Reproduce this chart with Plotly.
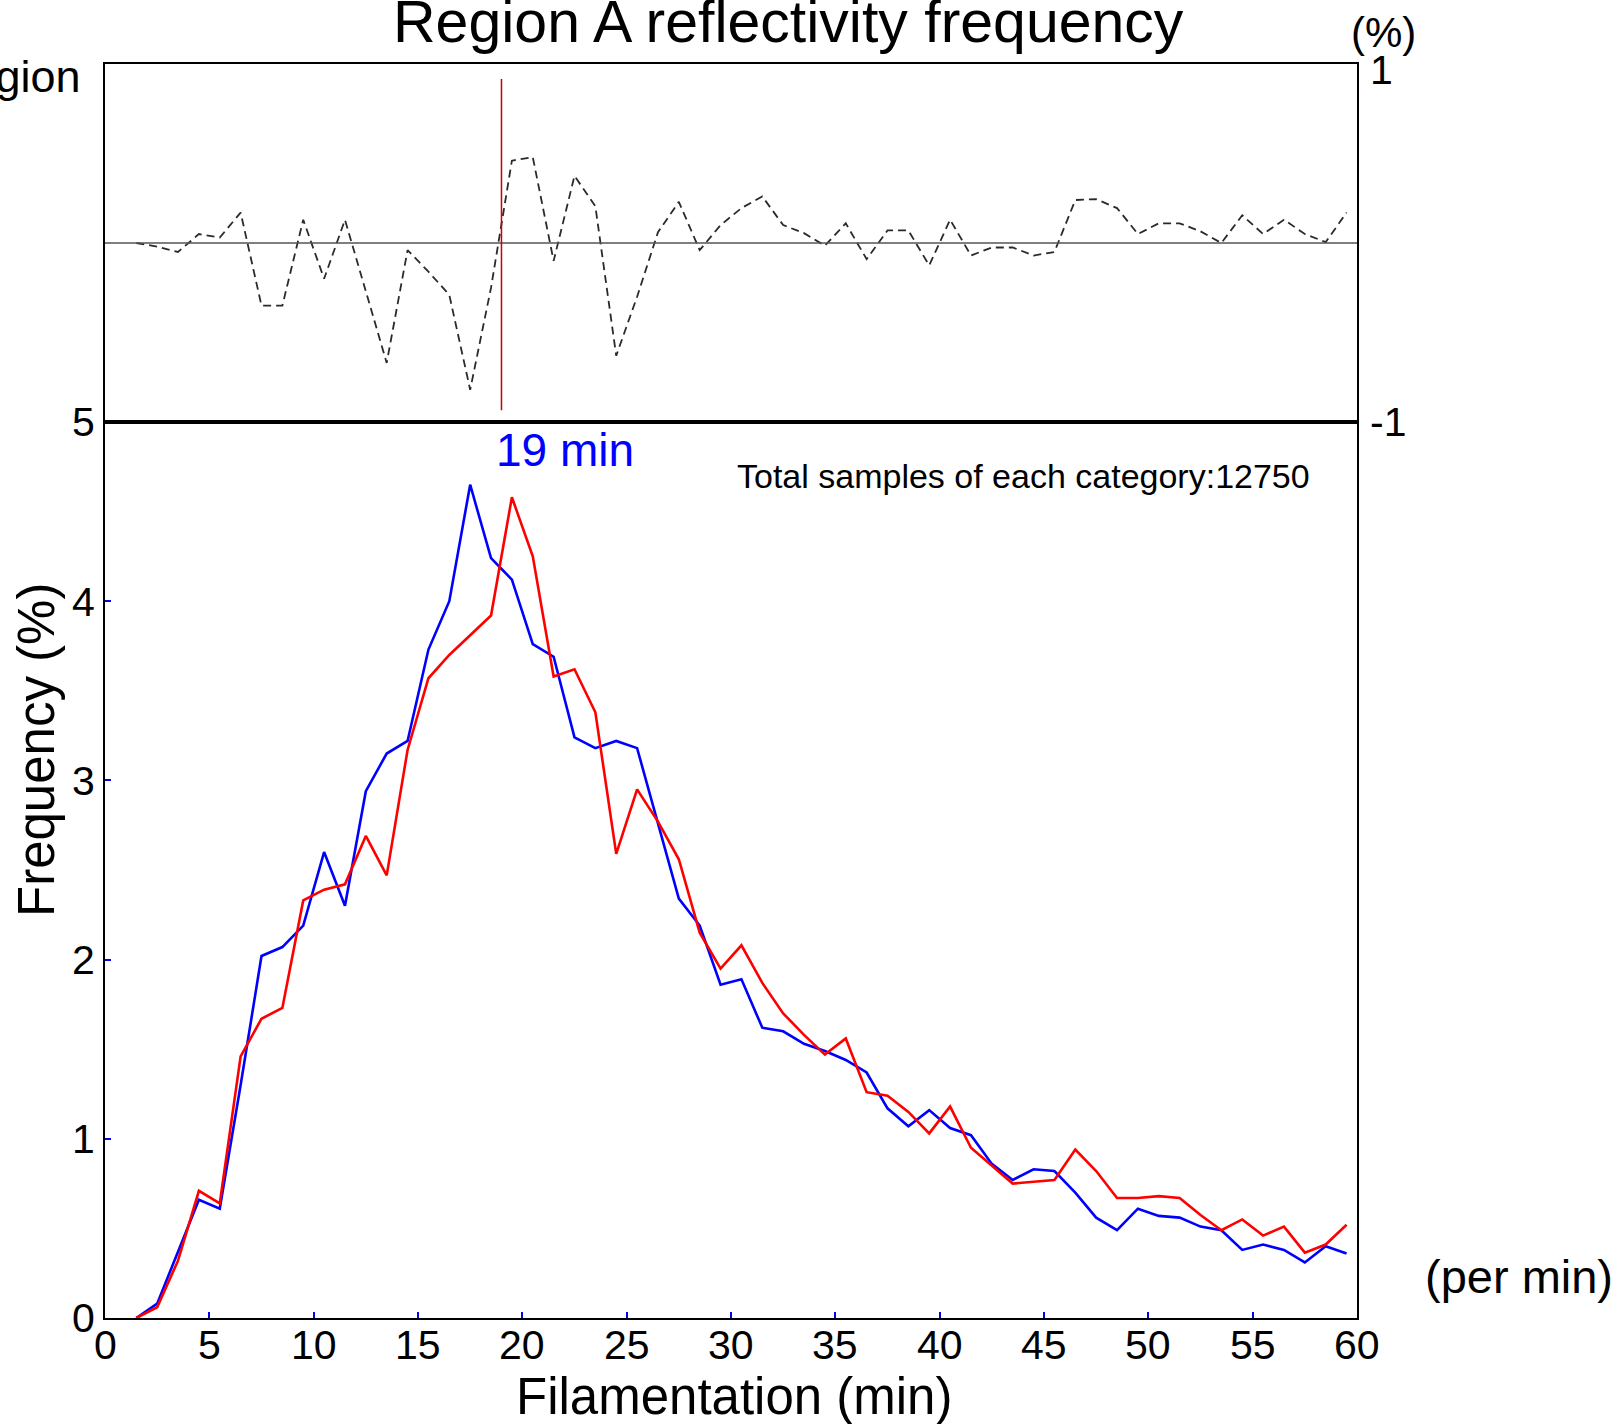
import plotly.graph_objects as go

# ---- data ----
minutes = [i + 0.5 for i in range(1, 60)]  # 1.5 .. 59.5

freq_blue = [0.00, 0.08, 0.37, 0.66, 0.61, 1.30, 2.02, 2.07, 2.19, 2.60,
             2.30, 2.94, 3.15, 3.22, 3.73, 4.00, 4.65, 4.24, 4.12, 3.76,
             3.69, 3.24, 3.18, 3.22, 3.18, 2.76, 2.34, 2.19, 1.86, 1.89,
             1.62, 1.60, 1.53, 1.49, 1.44, 1.37, 1.17, 1.07, 1.16, 1.06,
             1.02, 0.86, 0.77, 0.83, 0.82, 0.70, 0.56, 0.49, 0.61, 0.57,
             0.56, 0.51, 0.49, 0.38, 0.41, 0.38, 0.31, 0.40, 0.36]

freq_red = [0.00, 0.06, 0.32, 0.71, 0.64, 1.46, 1.67, 1.73, 2.33, 2.39,
            2.42, 2.69, 2.47, 3.17, 3.57, 3.70, 3.81, 3.92, 4.58, 4.25,
            3.58, 3.62, 3.38, 2.59, 2.95, 2.77, 2.56, 2.15, 1.95, 2.08,
            1.87, 1.70, 1.58, 1.47, 1.56, 1.26, 1.24, 1.15, 1.03, 1.18,
            0.95, 0.85, 0.75, 0.76, 0.77, 0.94, 0.82, 0.67, 0.67, 0.68,
            0.67, 0.575, 0.49, 0.55, 0.46, 0.51, 0.365, 0.41, 0.52]

freq_diff = [0.00, -0.02, -0.05, 0.05, 0.03, 0.17, -0.35, -0.35, 0.13, -0.20,
             0.13, -0.27, -0.67, -0.04, -0.16, -0.29, -0.82, -0.25, 0.46, 0.48,
             -0.10, 0.375, 0.205, -0.63, -0.30, 0.06, 0.23, -0.04, 0.10, 0.195,
             0.26, 0.10, 0.055, -0.015, 0.11, -0.09, 0.07, 0.07, -0.125, 0.13,
             -0.07, -0.025, -0.025, -0.07, -0.05, 0.24, 0.245, 0.195, 0.05, 0.11,
             0.11, 0.065, 0.00, 0.155, 0.05, 0.13, 0.05, 0.005, 0.17]

x_ticks = [0, 5, 10, 15, 20, 25, 30, 35, 40, 45, 50, 55, 60]
y_ticks = [0, 1, 2, 3, 4, 5]
diff_ticks = [-1, 1]
peak_minute = 19
total_samples = 12750

# ---- layout geometry ----
W, H = 1618, 1424
L, R, T, B = 105, 1357, 64, 1318
PW, PH = R - L, B - T
split = 422
dom_split = (B - split) / PH

def px(xp):
    return (xp - L) / PW

def py(yp):
    return (B - yp) / PH

FONT = "Liberation Sans, Arial, Helvetica, sans-serif"

fig = go.Figure()

fig.add_trace(go.Scatter(x=minutes, y=freq_blue, mode="lines",
                         line=dict(color="#0000ff", width=2.6),
                         xaxis="x", yaxis="y", showlegend=False))
fig.add_trace(go.Scatter(x=minutes, y=freq_red, mode="lines",
                         line=dict(color="#ff0000", width=2.6),
                         xaxis="x", yaxis="y", showlegend=False))
fig.add_trace(go.Scatter(x=minutes, y=freq_diff, mode="lines",
                         line=dict(color="#2a2a2a", width=1.8, dash="8px,5px"),
                         xaxis="x2", yaxis="y2", showlegend=False))

axis_common = dict(showline=True, linecolor="black", linewidth=2, mirror=True,
                   showgrid=False, zeroline=False)

fig.update_layout(
    width=W, height=H,
    margin=dict(l=L, r=W - R, t=T, b=H - B),
    paper_bgcolor="white", plot_bgcolor="white",
    font=dict(family=FONT, color="black"),
    xaxis=dict(range=[0, 60], domain=[0, 1], anchor="y",
               tickvals=x_ticks, showticklabels=False,
               ticks="inside", ticklen=6, tickwidth=2, tickcolor="#0000ff",
               **axis_common),
    yaxis=dict(range=[0, 5], domain=[0, dom_split], anchor="x",
               tickvals=y_ticks, ticktext=[str(v) for v in y_ticks],
               ticks="inside", ticklen=6, tickwidth=2, tickcolor="#0000ff",
               tickfont=dict(size=41, color="black"), ticklabelstandoff=0,
               **axis_common),
    xaxis2=dict(range=[0, 60], domain=[0, 1], anchor="y2", matches="x",
                showticklabels=False, ticks="", **axis_common),
    yaxis2=dict(range=[-1, 1], domain=[dom_split, 1], anchor="x2", side="right",
                tickvals=diff_ticks, showticklabels=False,
                ticks="", **axis_common),
)

# zero line and peak marker in the upper panel
fig.add_shape(type="line", xref="x2", yref="y2", x0=0, x1=60, y0=0, y1=0,
              line=dict(color="#555555", width=1.6))
fig.add_shape(type="line", xref="x2", yref="y2", x0=peak_minute, x1=peak_minute,
              y0=-0.935, y1=0.916, line=dict(color="#cc0000", width=1.5))

# x tick labels (placed closer to the axis than plotly's default)
for v in x_ticks:
    fig.add_annotation(text=str(v), x=v, y=py(1345), xref="x", yref="paper",
                       xanchor="center", yanchor="middle", showarrow=False,
                       font=dict(size=41, color="black", family=FONT))

# right-hand labels of the difference panel (slightly below the tick positions, as in the original)
diff_label_px = {1: 70, -1: 422}
for v in diff_ticks:
    fig.add_annotation(text=str(v), x=px(1368), y=py(diff_label_px[v]),
                       xref="paper", yref="paper", xanchor="left", yanchor="middle",
                       showarrow=False, font=dict(size=41, color="black", family=FONT))

ann = [
    dict(text="Region A reflectivity frequency", x=px(788), y=py(22), size=59,
         color="black"),
    dict(text="Region", x=px(83), y=py(77), size=45, color="black", xanchor="right"),
    dict(text="(%)", x=px(1383), y=py(33), size=42, color="black"),
    dict(text=f"{peak_minute} min", x=px(565), y=py(450), size=46, color="#0000ff"),
    dict(text=f"Total samples of each category:{total_samples}", x=px(1023), y=py(476),
         size=34, color="black"),
    dict(text="(per min)", x=px(1519), y=py(1276), size=47, color="black"),
    dict(text="Filamentation (min)", x=px(734), y=py(1396), size=51, color="black"),
    dict(text="Frequency (%)", x=px(36), y=py(750), size=51, color="black",
         textangle=-90),
]
for a in ann:
    fig.add_annotation(text=a["text"], x=a["x"], y=a["y"], xref="paper", yref="paper",
                       xanchor=a.get("xanchor", "center"), yanchor="middle",
                       showarrow=False, textangle=a.get("textangle", 0),
                       font=dict(size=a["size"], color=a["color"], family=FONT))

fig.write_html("out.html")
